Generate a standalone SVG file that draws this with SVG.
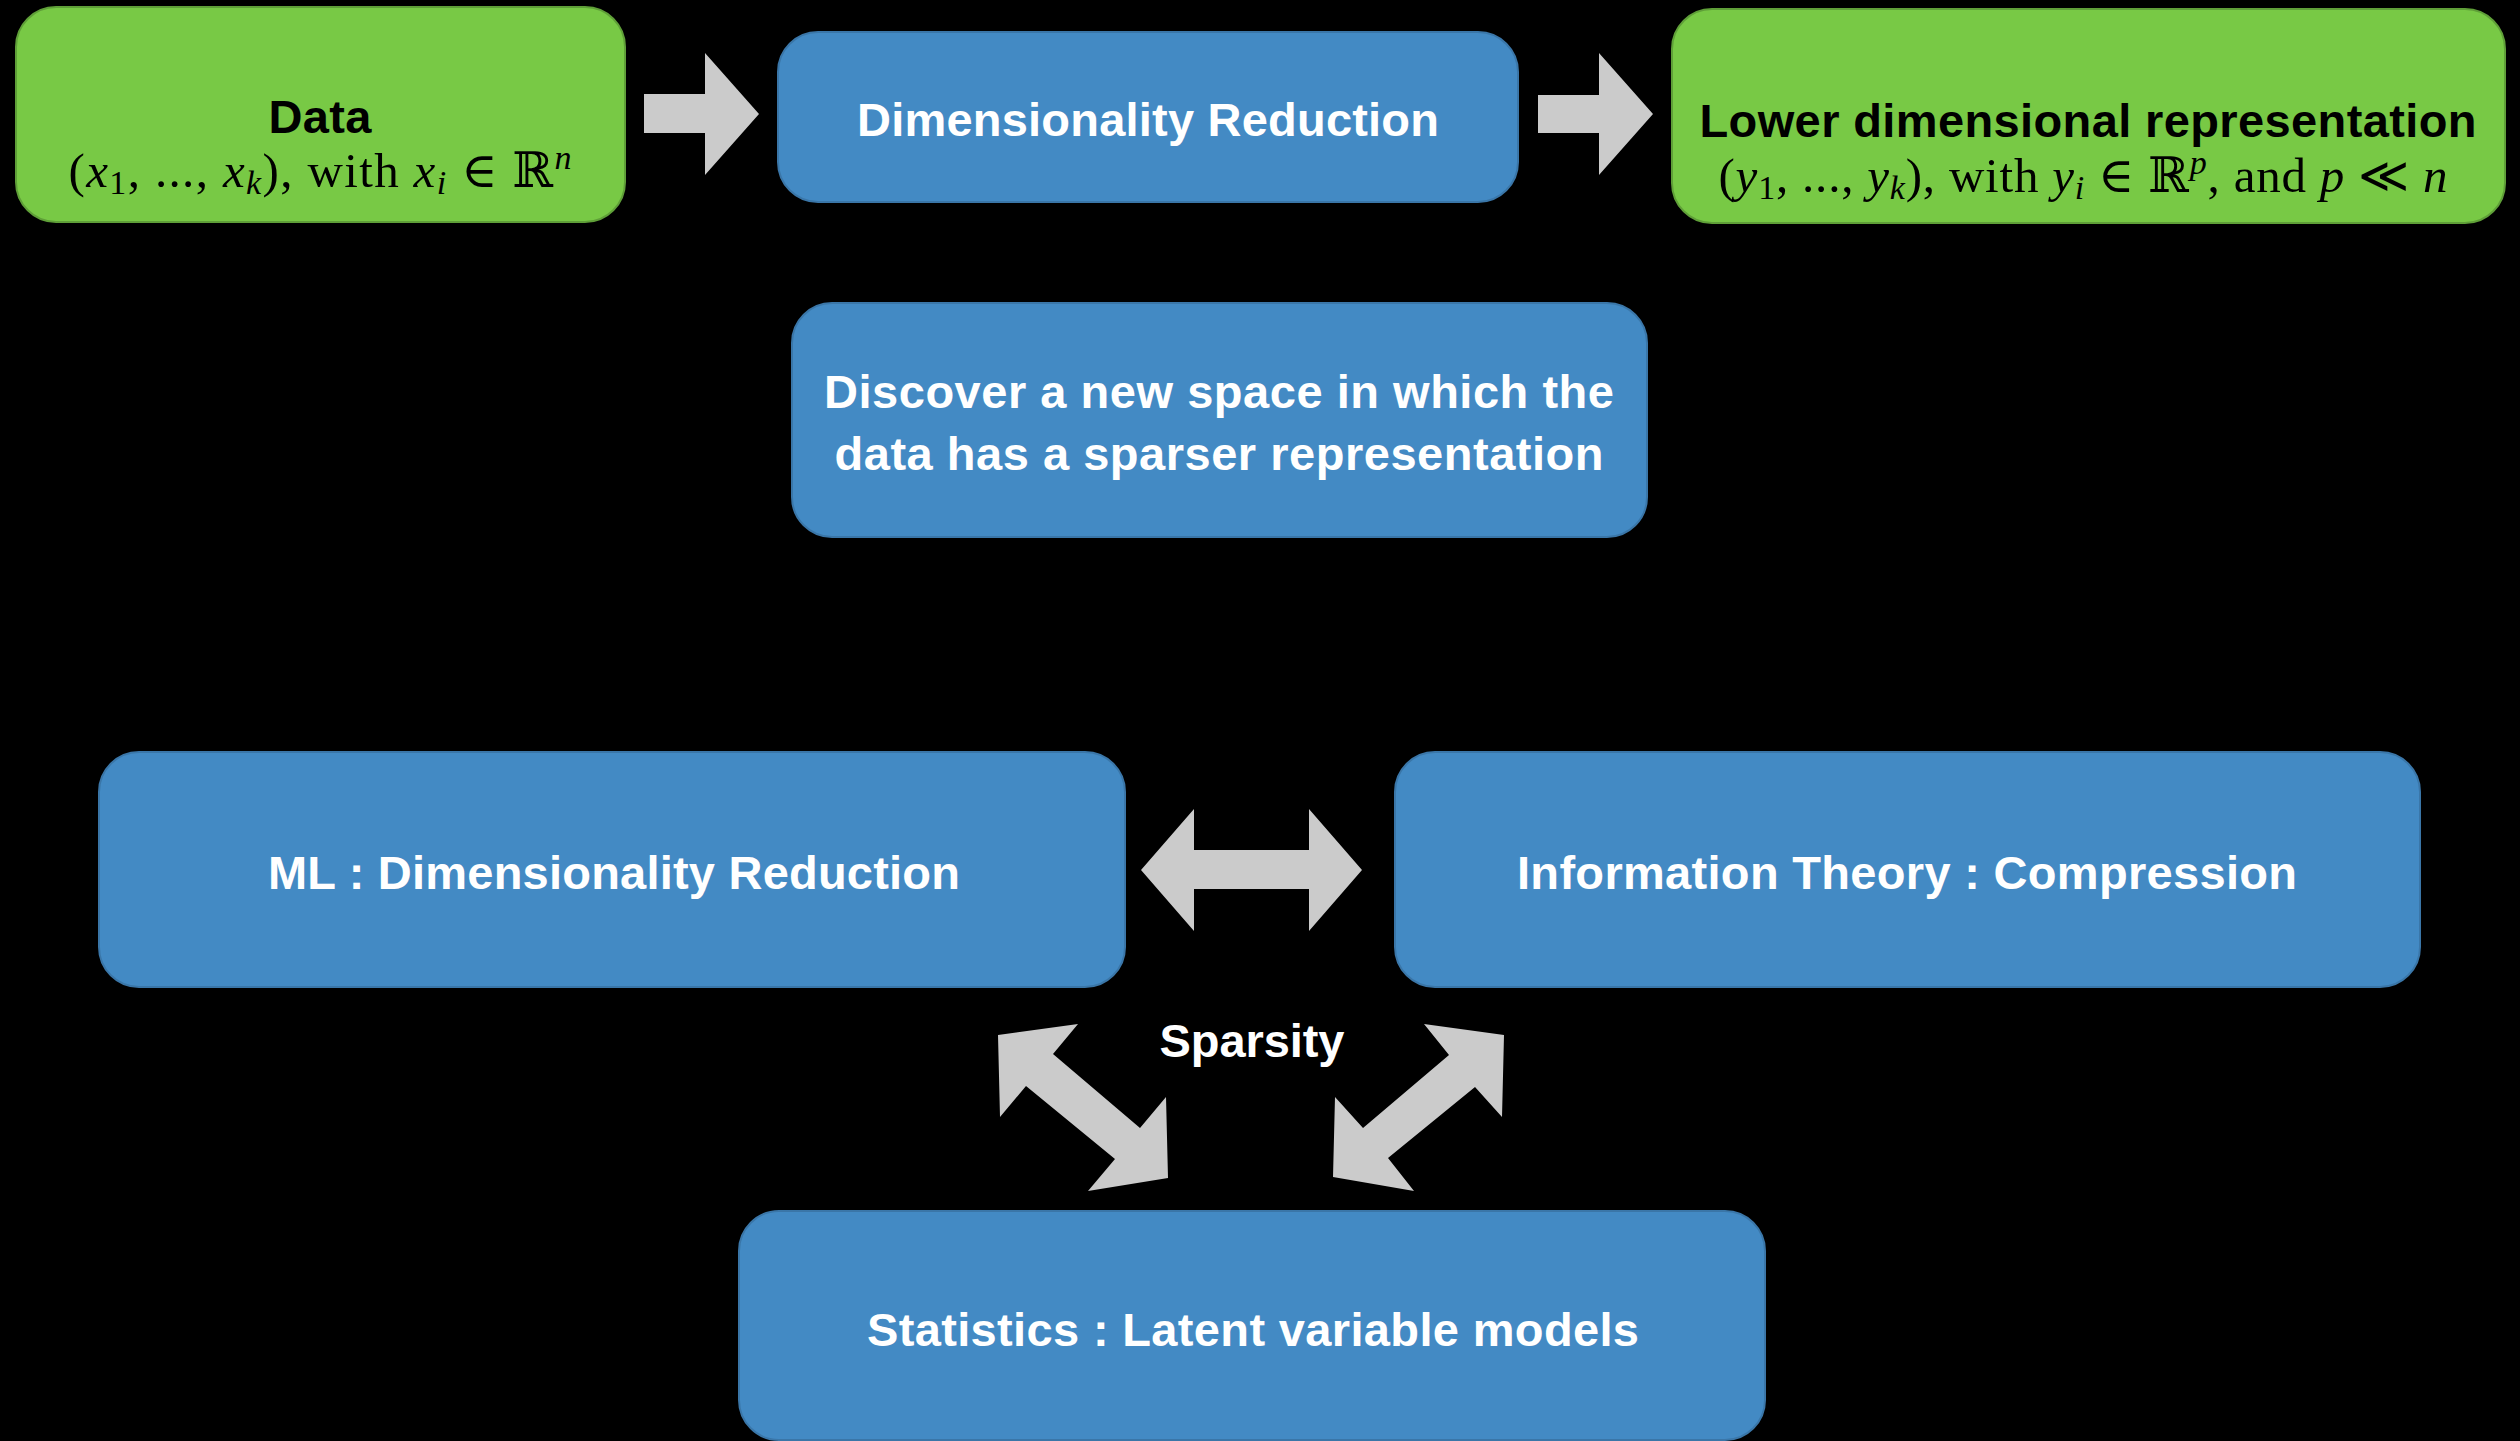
<svg xmlns="http://www.w3.org/2000/svg" width="2520" height="1441" viewBox="0 0 2520 1441">
<style>
.green{fill:#78c945;stroke:#5f9f38;stroke-width:2}
.blue{fill:#438ac4;stroke:#3a76a8;stroke-width:2}
.arrow{fill:#cbcbcb}
.title{font-family:"Liberation Sans",Arial,sans-serif;font-weight:bold;font-size:47px;text-anchor:middle}
.dark{fill:#000}
.light{fill:#fff}
.math{font-family:"Liberation Serif","DejaVu Serif",serif;font-size:49px;text-anchor:middle;fill:#000}
.it{font-style:italic}
</style>
<rect width="2520" height="1441" fill="#000"/>
<g id="connectors">
<polygon class="arrow" points="644,94 705,94 705,53 759,114 705,175 705,133 644,133"/>
<polygon class="arrow" points="1538,95 1599,95 1599,53 1653,114 1599,175 1599,133 1538,133"/>
<polygon class="arrow" points="1141,870 1194,809 1194,850 1309,850 1309,809 1362,870 1309,931 1309,889 1194,889 1194,931"/>
<polygon class="arrow" points="998,1035 1078,1024 1053,1054 1140,1128 1166,1097 1168,1178 1088,1191 1115,1159 1026,1086 1000,1117"/>
<polygon class="arrow" points="1504,1035 1424,1024 1449,1055 1363,1128 1335,1097 1333,1177 1414,1191 1388,1158 1475,1087 1502,1117"/>
</g>
<g id="data">
<rect class="green" x="16" y="7" width="609" height="215" rx="40"/>
<text class="title dark" x="320" y="133" textLength="103">Data</text>
<text class="math" x="320" y="187" textLength="503">(<tspan class="it">x</tspan><tspan font-size="34" dy="7">1</tspan><tspan dy="-7">, ..., </tspan><tspan class="it">x</tspan><tspan class="it" font-size="34" dy="7">k</tspan><tspan dy="-7">), with </tspan><tspan class="it">x</tspan><tspan class="it" font-size="34" dy="7">i</tspan><tspan dy="-7"> ∈ ℝ</tspan><tspan class="it" font-size="34" dy="-18">n</tspan></text>
</g>
<g id="dimensionality-reduction">
<rect class="blue" x="778" y="32" width="740" height="170" rx="40"/>
<text class="title light" x="1148" y="136" textLength="582">Dimensionality Reduction</text>
</g>
<g id="lower-representation">
<rect class="green" x="1672" y="9" width="833" height="214" rx="40"/>
<text class="title dark" x="2088" y="137" textLength="777">Lower dimensional representation</text>
<text class="math" x="2083" y="192" textLength="729">(<tspan class="it">y</tspan><tspan font-size="34" dy="7">1</tspan><tspan dy="-7">, ..., </tspan><tspan class="it">y</tspan><tspan class="it" font-size="34" dy="7">k</tspan><tspan dy="-7">), with </tspan><tspan class="it">y</tspan><tspan class="it" font-size="34" dy="7">i</tspan><tspan dy="-7"> ∈ ℝ</tspan><tspan class="it" font-size="34" dy="-18">p</tspan><tspan dy="18">, and </tspan><tspan class="it">p</tspan><tspan> ≪ </tspan><tspan class="it">n</tspan></text>
</g>
<g id="discover">
<rect class="blue" x="792" y="303" width="855" height="234" rx="40"/>
<text class="title light" x="1219" y="408" textLength="790">Discover a new space in which the</text>
<text class="title light" x="1219" y="470" textLength="769">data has a sparser representation</text>
</g>
<g id="ml">
<rect class="blue" x="99" y="752" width="1026" height="235" rx="40"/>
<text class="title light" x="614" y="889" textLength="692">ML : Dimensionality Reduction</text>
</g>
<g id="information-theory">
<rect class="blue" x="1395" y="752" width="1025" height="235" rx="40"/>
<text class="title light" x="1907" y="889" textLength="780">Information Theory : Compression</text>
</g>
<g id="sparsity">
<text class="title light" x="1252" y="1057" textLength="185">Sparsity</text>
</g>
<g id="statistics">
<rect class="blue" x="739" y="1211" width="1026" height="229" rx="40"/>
<text class="title light" x="1253" y="1346" textLength="772">Statistics : Latent variable models</text>
</g>
</svg>
